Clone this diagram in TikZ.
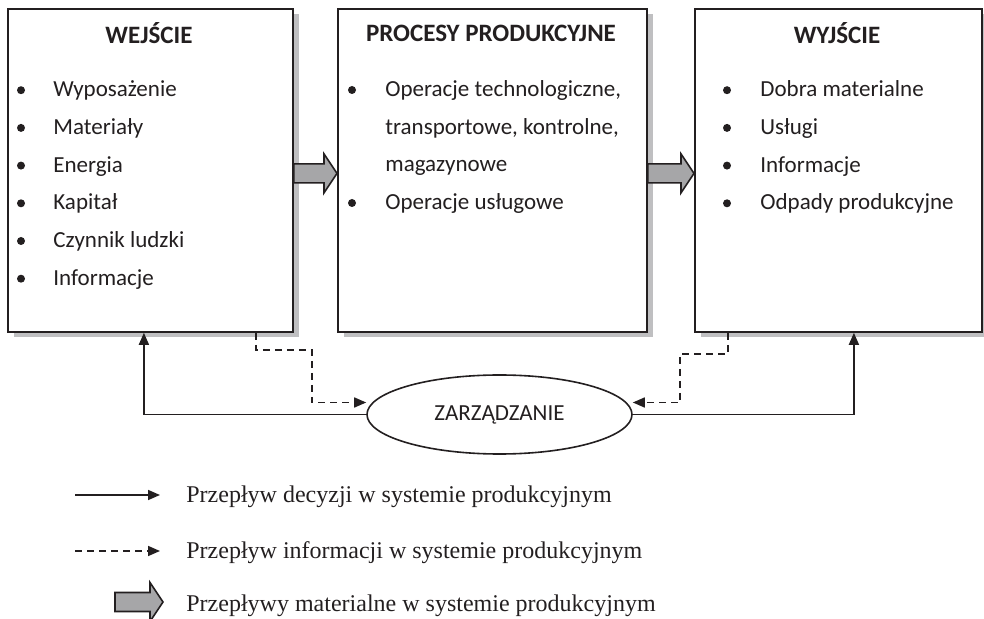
\documentclass[tikz,border=0pt]{standalone}
\usepackage{fontspec}
\setmainfont{Carlito}
\newfontfamily\legendfont{Liberation Serif}
\usepackage{tikz}
\usetikzlibrary{arrows.meta,positioning,calc,shapes.geometric,shadows}
\definecolor{shadowgray}{RGB}{191,191,193}
\definecolor{flowgray}{RGB}{166,166,168}
\definecolor{linegray}{RGB}{35,31,32}
\newcommand{\matflow}[2]{%
	\draw[matarrow] ([yshift=4.75pt]#1) -- ([xshift=-6.5pt,yshift=4.75pt]#2) -- ([xshift=-6.5pt,yshift=9.75pt]#2) -- (#2)
		-- ([xshift=-6.5pt,yshift=-9.75pt]#2) -- ([xshift=-6.5pt,yshift=-4.75pt]#2) -- ([yshift=-4.75pt]#1) -- cycle;}

\begin{document}
\begin{tikzpicture}[x=0.5pt,y=-0.5pt,
			box/.style={rectangle,draw=linegray,line width=0.9pt,fill=white,anchor=north west,minimum height=161.5pt,
				drop shadow={shadow xshift=3pt,shadow yshift=-2.5pt,fill=shadowgray,opacity=1}},
			head/.style={font=\fontsize{12.5}{15}\selectfont\bfseries,text=linegray,inner sep=0pt},
			item/.style={font=\fontsize{11.5}{14}\selectfont,text=linegray,anchor=west,inner sep=0pt,text height=1.35ex,text depth=0pt},
			dot/.style={circle,fill=linegray,inner sep=0pt,minimum size=4pt},
			mgmt/.style={ellipse,draw=linegray,line width=0.8pt,fill=white,minimum width=132.5pt,minimum height=39.5pt,inner sep=0pt,
				font=\fontsize{11.5}{14}\selectfont,text=linegray},
			decis/.style={draw=linegray,line width=0.8pt,-{Triangle[length=6pt,width=5pt]}},
			info/.style={decis,dash pattern=on 3.5pt off 2.5pt},
			matarrow/.style={draw=linegray,line width=0.8pt,fill=flowgray,line join=miter},
			leg/.style={font=\legendfont\fontsize{12}{14}\selectfont,text=linegray,anchor=west,inner sep=0pt,text height=1.5ex,text depth=0pt}]
		\useasboundingbox (0,0) rectangle (984,619);
		\path	(7,8) 	node 	(wej) 	[box, minimum width=142.5pt] {}
				(337,8) node 	(proc) 	[box, minimum width=154.5pt] {}
				(694,8) node 	(wyj) 	[box, minimum width=143.5pt] {};
		\path	(149,33) 	node 	(wejT) 	[head] {WEJŚCIE}
				(491,33) 	node 	(procT) [head] {PROCESY PRODUKCYJNE}
				(837,33) 	node 	(wyjT) 	[head] {WYJŚCIE};
		\foreach \t [count=\i] in {Wyposażenie,Materiały,Energia,Kapitał,Czynnik ludzki,Informacje}{
			\node[dot] (wejD\i) at (21,{52.5+37.7*\i}) {};
			\node[item] (wej\i) at (53,{52.5+37.7*\i}) {\t};
		}
		\path	(352,90) 	node 	(procD1) [dot] {}
				(385,90) 	node 	(proc1) [item] {Operacje technologiczne,}
				(385,128) 	node 	(proc2) [item] {transportowe, kontrolne,}
				(385,165) 	node 	(proc3) [item] {magazynowe}
				(352,203) 	node 	(procD2) [dot] {}
				(385,203) 	node 	(proc4) [item] {Operacje usługowe};
		\foreach \t [count=\i] in {Dobra materialne,Usługi,Informacje,Odpady produkcyjne}{
			\node[dot] (wyjD\i) at (727,{52.5+37.7*\i}) {};
			\node[item] (wyj\i) at (760,{52.5+37.7*\i}) {\t};
		}
		\coordinate (m1a) at ([yshift=-1.5pt]wej.east);
		\coordinate (m1b) at ([yshift=-1.5pt]proc.west);
		\coordinate (m2a) at ([yshift=-1.5pt]proc.east);
		\coordinate (m2b) at ([yshift=-1.5pt]wyj.west);
		\matflow{m1a}{m1b}
		\matflow{m2a}{m2b}
		\node[mgmt] (zarz) at (499.5,414.5) {ZARZĄDZANIE};
		\draw[decis] (zarz.west) -| ([xshift=-3.25pt]wej.south);
		\draw[decis] (zarz.east) -| ([xshift=7.75pt]wyj.south);
		\draw[info] ([xshift=52.75pt]wej.south) -- ++(0,17) -- ++(56,0) |- ([yshift=6pt]zarz.west);
		\draw[info] ([xshift=-55.25pt]wyj.south) -- ++(0,21) -- ++(-48,0) |- ([yshift=6pt]zarz.east);
		\coordinate (leg1a) at (75,495);
		\coordinate (leg1b) at (160,495);
		\coordinate (leg2a) at (75,551);
		\coordinate (leg2b) at (160,551);
		\coordinate (leg3a) at (115,602);
		\coordinate (leg3b) at (163,602);
		\draw[decis] (leg1a) -- (leg1b);
		\draw[info] (leg2a) -- (leg2b);
		\matflow{leg3a}{leg3b}
		\path	(186,495) 	node 	(leg1) [leg] {Przepływ decyzji w systemie produkcyjnym}
				(186,551) 	node 	(leg2) [leg] {Przepływ informacji w systemie produkcyjnym}
				(186,604) 	node 	(leg3) [leg] {Przepływy materialne w systemie produkcyjnym};
	\end{tikzpicture}
\end{document}
